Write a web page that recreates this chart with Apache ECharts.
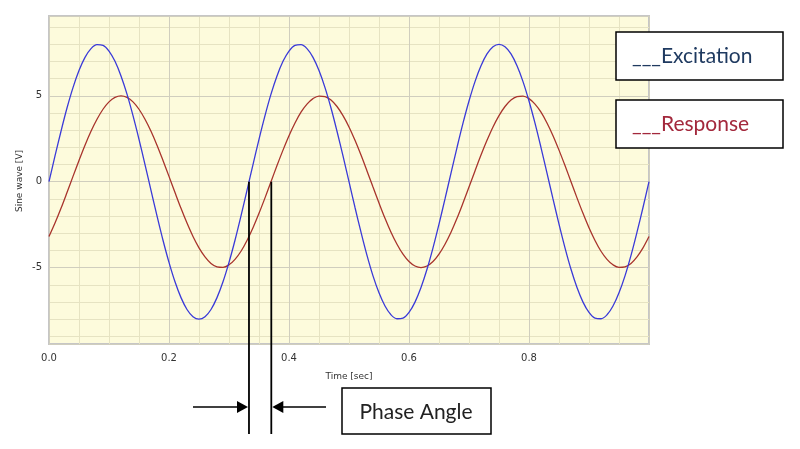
<!DOCTYPE html>
<html>
<head>
<meta charset="utf-8">
<script src="https://cdn.jsdelivr.net/npm/echarts@6/dist/echarts.min.js"></script>
<style>
html,body{margin:0;padding:0;background:#fff;}
#c{width:800px;height:449px;}
</style>
</head>
<body>
<div id="c"></div>
<script>
// Time samples [sec]
var time = [0.00,0.01,0.02,0.03,0.04,0.05,0.06,0.07,0.08,0.09,
0.10,0.11,0.12,0.13,0.14,0.15,0.16,0.17,0.18,0.19,
0.20,0.21,0.22,0.23,0.24,0.25,0.26,0.27,0.28,0.29,
0.30,0.31,0.32,0.33,0.34,0.35,0.36,0.37,0.38,0.39,
0.40,0.41,0.42,0.43,0.44,0.45,0.46,0.47,0.48,0.49,
0.50,0.51,0.52,0.53,0.54,0.55,0.56,0.57,0.58,0.59,
0.60,0.61,0.62,0.63,0.64,0.65,0.66,0.67,0.68,0.69,
0.70,0.71,0.72,0.73,0.74,0.75,0.76,0.77,0.78,0.79,
0.80,0.81,0.82,0.83,0.84,0.85,0.86,0.87,0.88,0.89,
0.90,0.91,0.92,0.93,0.94,0.95,0.96,0.97,0.98,0.99,1.00];

// Excitation [V]
var excitation = [0,1.50,2.94,4.29,5.48,6.47,7.24,7.75,7.98,7.94,
7.61,7.01,6.16,5.10,3.85,2.47,1.00,-0.50,-1.99,-3.41,
-4.70,-5.83,-6.75,-7.44,-7.86,-8.00,-7.86,-7.44,-6.75,-5.83,
-4.70,-3.41,-1.99,-0.50,1.00,2.47,3.85,5.10,6.16,7.01,
7.61,7.94,7.98,7.75,7.24,6.47,5.48,4.29,2.94,1.50,
0,-1.50,-2.94,-4.29,-5.48,-6.47,-7.24,-7.75,-7.98,-7.94,
-7.61,-7.01,-6.16,-5.10,-3.85,-2.47,-1.00,0.50,1.99,3.41,
4.70,5.83,6.75,7.44,7.86,8.00,7.86,7.44,6.75,5.83,
4.70,3.41,1.99,0.50,-1.00,-2.47,-3.85,-5.10,-6.16,-7.01,
-7.61,-7.94,-7.98,-7.75,-7.24,-6.47,-5.48,-4.29,-2.94,-1.50,0];

// Response [V]
var response = [-3.19,-2.41,-1.55,-0.63,0.31,1.24,2.13,2.94,3.64,4.22,
4.65,4.91,5.00,4.91,4.65,4.22,3.64,2.94,2.13,1.24,
0.31,-0.63,-1.55,-2.41,-3.19,-3.85,-4.38,-4.76,-4.96,-4.99,
-4.84,-4.52,-4.05,-3.42,-2.68,-1.84,-0.94,0,0.94,1.84,
2.68,3.42,4.05,4.52,4.84,4.99,4.96,4.76,4.38,3.85,
3.19,2.41,1.55,0.63,-0.31,-1.24,-2.13,-2.94,-3.64,-4.22,
-4.65,-4.91,-5.00,-4.91,-4.65,-4.22,-3.64,-2.94,-2.13,-1.24,
-0.31,0.63,1.55,2.41,3.19,3.85,4.38,4.76,4.96,4.99,
4.84,4.52,4.05,3.42,2.68,1.84,0.94,0,-0.94,-1.84,
-2.68,-3.42,-4.05,-4.52,-4.84,-4.99,-4.96,-4.76,-4.38,-3.85,-3.19];

// Zero crossings marked by the phase-angle annotation [sec]
var phaseCrossings = [0.3333, 0.3705];

var legendLabels = ['___Excitation', '___Response'];
var annotationLabel = 'Phase Angle';
var yTitle = 'Sine wave [V]';
var xTitle = 'Time [sec]';

function pairs(xs, ys){ var out=[]; for(var i=0;i<xs.length;i++){ out.push([xs[i], ys[i]]); } return out; }

var chart = echarts.init(document.getElementById('c'), null, {renderer:'canvas'});
var font = 'DejaVu Sans';
var minorColor = '#e6e3c2';
var majorColor = '#d0cebe';

chart.setOption({
  animation:false,
  backgroundColor:'#ffffff',
  grid:{left:49, top:16, width:600, height:328, show:true, backgroundColor:'#fdfbdc', borderColor:'#c6c6c6', borderWidth:2},
  xAxis:[{
    type:'value', min:0, max:1, interval:0.2, z:1,
    axisLine:{show:false}, axisTick:{show:false},
    axisLabel:{formatter:function(v){return v>=0.999?'':v.toFixed(1);}, color:'#333333', fontSize:10, fontFamily:font, margin:9},
    splitLine:{show:true, lineStyle:{color:majorColor, width:1}},
    name:xTitle, nameLocation:'middle', nameGap:28,
    nameTextStyle:{color:'#333333', fontSize:9, fontFamily:font}
  },{
    type:'value', min:0, max:1, interval:0.05, z:0,
    axisLine:{show:false}, axisTick:{show:false}, axisLabel:{show:false},
    splitLine:{show:true, lineStyle:{color:minorColor, width:1}}
  }],
  yAxis:[{
    type:'value', min:-9.45, max:9.65, splitNumber:4, minInterval:5, maxInterval:5, z:1,
    axisLine:{show:false}, axisTick:{show:false},
    axisLabel:{showMinLabel:false, showMaxLabel:false, color:'#333333', fontSize:10, fontFamily:font, margin:7},
    splitLine:{show:true, lineStyle:{color:majorColor, width:1}}
  },{
    type:'value', min:-9.45, max:9.65, splitNumber:19, minInterval:1, maxInterval:1, z:0,
    axisLine:{show:false}, axisTick:{show:false}, axisLabel:{show:false},
    splitLine:{show:true, lineStyle:{color:minorColor, width:1}}
  }],
  series:[{
    name:'Excitation', type:'line', xAxisIndex:0, yAxisIndex:0, z:3,
    data:pairs(time, excitation), showSymbol:false, smooth:0.35,
    lineStyle:{color:'#3a3ad8', width:1.3}
  },{
    name:'Response', type:'line', xAxisIndex:0, yAxisIndex:0, z:2,
    data:pairs(time, response), showSymbol:false, smooth:0.35,
    lineStyle:{color:'#a8342c', width:1.3}
  }]
});

// annotation positions derived from the axes
var p1 = chart.convertToPixel({gridIndex:0}, [phaseCrossings[0], 0]);
var p2 = chart.convertToPixel({gridIndex:0}, [phaseCrossings[1], 0]);
var lineBottom = 434, arrowY = 407;

chart.setOption({
  graphic:[
    {type:'text', x:20, y:181, rotation:Math.PI/2, style:{text:yTitle, fill:'#333333', font:'9px "DejaVu Sans"', textAlign:'center', textVerticalAlign:'middle'}, z:11},
    {type:'line', shape:{x1:p1[0], y1:p1[1], x2:p1[0], y2:lineBottom}, style:{stroke:'#000', lineWidth:1.8}, z:10},
    {type:'line', shape:{x1:p2[0], y1:p2[1], x2:p2[0], y2:lineBottom}, style:{stroke:'#000', lineWidth:1.8}, z:10},
    {type:'line', shape:{x1:193, y1:arrowY, x2:p1[0]-10, y2:arrowY}, style:{stroke:'#000', lineWidth:1.5}, z:10},
    {type:'polygon', shape:{points:[[p1[0]-1,arrowY],[p1[0]-12,arrowY-6],[p1[0]-12,arrowY+6]]}, style:{fill:'#000'}, z:10},
    {type:'line', shape:{x1:p2[0]+10, y1:arrowY, x2:326, y2:arrowY}, style:{stroke:'#000', lineWidth:1.5}, z:10},
    {type:'polygon', shape:{points:[[p2[0]+1,arrowY],[p2[0]+12,arrowY-6],[p2[0]+12,arrowY+6]]}, style:{fill:'#000'}, z:10},
    {type:'rect', shape:{x:342, y:388, width:149, height:46}, style:{fill:'#fff', stroke:'#000', lineWidth:1.5}, z:10},
    {type:'text', x:416, y:412, style:{text:annotationLabel, fill:'#222', font:'21px Lato', textAlign:'center', textVerticalAlign:'middle'}, z:11},
    {type:'rect', shape:{x:616, y:32, width:167, height:48}, style:{fill:'#fff', stroke:'#000', lineWidth:1.5}, z:10},
    {type:'text', x:632, y:56, style:{text:legendLabels[0], fill:'#1f3a60', font:'21px Lato', textAlign:'left', textVerticalAlign:'middle'}, z:11},
    {type:'rect', shape:{x:616, y:100, width:167, height:48}, style:{fill:'#fff', stroke:'#000', lineWidth:1.5}, z:10},
    {type:'text', x:632, y:124, style:{text:legendLabels[1], fill:'#a3283c', font:'21px Lato', textAlign:'left', textVerticalAlign:'middle'}, z:11}
  ]
});
</script>
</body>
</html>
